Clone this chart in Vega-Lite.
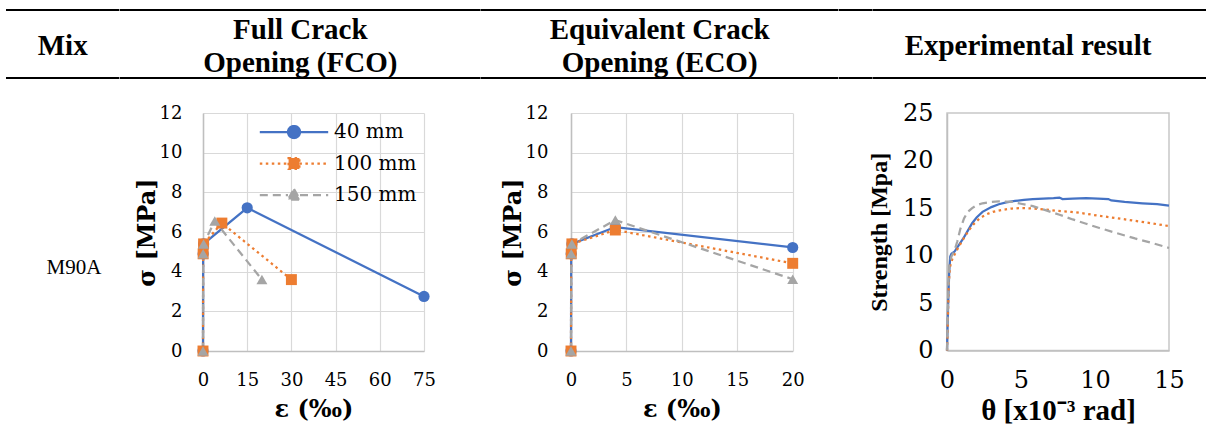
{
  "$schema": "https://vega.github.io/schema/vega-lite/v6.json",
  "background": "white",
  "padding": {"left": 5, "top": 9, "right": 0, "bottom": 0},
  "config": {
    "view": {"stroke": null},
    "axis": {"ticks": false, "labelFlush": false, "domainColor": "#bfbfbf", "domainWidth": 1.5, "gridColor": "#d9d9d9", "gridWidth": 1.2, "labelColor": "black", "titleColor": "black", "labelFont": "DejaVu Serif", "titleFont": "DejaVu Serif", "labelFontSize": 18, "titleFontSize": 24, "titleFontWeight": "bold"}
  },
  "datasets": {
    "fco": [
      {"series": "40 mm", "eps": 0, "sigma": 0},
      {"series": "40 mm", "eps": 0.05, "sigma": 4.9},
      {"series": "40 mm", "eps": 0.2, "sigma": 5.4},
      {"series": "40 mm", "eps": 15, "sigma": 7.22},
      {"series": "40 mm", "eps": 75, "sigma": 2.75},
      {"series": "100 mm", "eps": 0, "sigma": 0},
      {"series": "100 mm", "eps": 0.05, "sigma": 4.9},
      {"series": "100 mm", "eps": 0.2, "sigma": 5.4},
      {"series": "100 mm", "eps": 6.4, "sigma": 6.45},
      {"series": "100 mm", "eps": 30, "sigma": 3.6},
      {"series": "150 mm", "eps": 0, "sigma": 0},
      {"series": "150 mm", "eps": 0.05, "sigma": 4.9},
      {"series": "150 mm", "eps": 0.2, "sigma": 5.4},
      {"series": "150 mm", "eps": 4, "sigma": 6.55},
      {"series": "150 mm", "eps": 20, "sigma": 3.6}
    ],
    "eco": [
      {"series": "40 mm", "eps": 0, "sigma": 0},
      {"series": "40 mm", "eps": 0.02, "sigma": 4.9},
      {"series": "40 mm", "eps": 0.08, "sigma": 5.4},
      {"series": "40 mm", "eps": 4, "sigma": 6.25},
      {"series": "40 mm", "eps": 20, "sigma": 5.22},
      {"series": "100 mm", "eps": 0, "sigma": 0},
      {"series": "100 mm", "eps": 0.02, "sigma": 4.9},
      {"series": "100 mm", "eps": 0.08, "sigma": 5.4},
      {"series": "100 mm", "eps": 4, "sigma": 6.1},
      {"series": "100 mm", "eps": 20, "sigma": 4.42},
      {"series": "150 mm", "eps": 0, "sigma": 0},
      {"series": "150 mm", "eps": 0.02, "sigma": 4.9},
      {"series": "150 mm", "eps": 0.08, "sigma": 5.4},
      {"series": "150 mm", "eps": 4, "sigma": 6.6},
      {"series": "150 mm", "eps": 20, "sigma": 3.62}
    ],
    "exp": [
      {"series": "40 mm", "theta": 0, "strength": 0},
      {"series": "40 mm", "theta": 0.03, "strength": 2},
      {"series": "40 mm", "theta": 0.08, "strength": 5},
      {"series": "40 mm", "theta": 0.15, "strength": 8.3},
      {"series": "40 mm", "theta": 0.22, "strength": 9.9},
      {"series": "40 mm", "theta": 0.3, "strength": 10.2},
      {"series": "40 mm", "theta": 0.5, "strength": 10.4},
      {"series": "40 mm", "theta": 0.8, "strength": 11.1},
      {"series": "40 mm", "theta": 1.1, "strength": 11.8},
      {"series": "40 mm", "theta": 1.4, "strength": 12.6},
      {"series": "40 mm", "theta": 1.7, "strength": 13.4},
      {"series": "40 mm", "theta": 2.0, "strength": 14.0},
      {"series": "40 mm", "theta": 2.4, "strength": 14.6},
      {"series": "40 mm", "theta": 3.0, "strength": 15.1},
      {"series": "40 mm", "theta": 3.5, "strength": 15.4},
      {"series": "40 mm", "theta": 4.0, "strength": 15.6},
      {"series": "40 mm", "theta": 4.6, "strength": 15.75},
      {"series": "40 mm", "theta": 5.2, "strength": 15.85},
      {"series": "40 mm", "theta": 5.8, "strength": 15.95},
      {"series": "40 mm", "theta": 6.5, "strength": 16.0},
      {"series": "40 mm", "theta": 7.2, "strength": 16.05},
      {"series": "40 mm", "theta": 7.6, "strength": 16.1},
      {"series": "40 mm", "theta": 7.8, "strength": 15.95},
      {"series": "40 mm", "theta": 8.5, "strength": 16.0},
      {"series": "40 mm", "theta": 9.4, "strength": 16.05},
      {"series": "40 mm", "theta": 10.2, "strength": 16.0},
      {"series": "40 mm", "theta": 10.9, "strength": 15.95},
      {"series": "40 mm", "theta": 11.1, "strength": 15.8},
      {"series": "40 mm", "theta": 12.0, "strength": 15.65},
      {"series": "40 mm", "theta": 13.2, "strength": 15.5},
      {"series": "40 mm", "theta": 14.2, "strength": 15.4},
      {"series": "40 mm", "theta": 15.0, "strength": 15.25},
      {"series": "100 mm", "theta": 0, "strength": 0},
      {"series": "100 mm", "theta": 0.03, "strength": 1.5},
      {"series": "100 mm", "theta": 0.07, "strength": 4},
      {"series": "100 mm", "theta": 0.12, "strength": 7},
      {"series": "100 mm", "theta": 0.2, "strength": 8.8},
      {"series": "100 mm", "theta": 0.35, "strength": 9.6},
      {"series": "100 mm", "theta": 0.6, "strength": 10.4},
      {"series": "100 mm", "theta": 0.9, "strength": 11.2},
      {"series": "100 mm", "theta": 1.2, "strength": 12.0},
      {"series": "100 mm", "theta": 1.5, "strength": 12.7},
      {"series": "100 mm", "theta": 1.8, "strength": 13.3},
      {"series": "100 mm", "theta": 2.2, "strength": 13.9},
      {"series": "100 mm", "theta": 2.6, "strength": 14.3},
      {"series": "100 mm", "theta": 3.1, "strength": 14.6},
      {"series": "100 mm", "theta": 3.7, "strength": 14.8},
      {"series": "100 mm", "theta": 4.4, "strength": 14.95},
      {"series": "100 mm", "theta": 5.1, "strength": 15.0},
      {"series": "100 mm", "theta": 5.8, "strength": 14.95},
      {"series": "100 mm", "theta": 6.6, "strength": 14.85},
      {"series": "100 mm", "theta": 7.5, "strength": 14.7},
      {"series": "100 mm", "theta": 8.4, "strength": 14.6},
      {"series": "100 mm", "theta": 9.2, "strength": 14.45},
      {"series": "100 mm", "theta": 10.2, "strength": 14.2},
      {"series": "100 mm", "theta": 11.4, "strength": 13.95},
      {"series": "100 mm", "theta": 12.5, "strength": 13.7},
      {"series": "100 mm", "theta": 13.8, "strength": 13.4},
      {"series": "100 mm", "theta": 15.0, "strength": 13.1},
      {"series": "150 mm", "theta": 0, "strength": 0},
      {"series": "150 mm", "theta": 0.03, "strength": 2.5},
      {"series": "150 mm", "theta": 0.08, "strength": 6},
      {"series": "150 mm", "theta": 0.15, "strength": 9},
      {"series": "150 mm", "theta": 0.3, "strength": 9.9},
      {"series": "150 mm", "theta": 0.5, "strength": 10.5},
      {"series": "150 mm", "theta": 0.7, "strength": 11.5},
      {"series": "150 mm", "theta": 0.9, "strength": 12.8},
      {"series": "150 mm", "theta": 1.15, "strength": 13.9},
      {"series": "150 mm", "theta": 1.4, "strength": 14.6},
      {"series": "150 mm", "theta": 1.7, "strength": 15.0},
      {"series": "150 mm", "theta": 2.0, "strength": 15.3},
      {"series": "150 mm", "theta": 2.4, "strength": 15.5},
      {"series": "150 mm", "theta": 3.0, "strength": 15.65},
      {"series": "150 mm", "theta": 3.5, "strength": 15.7},
      {"series": "150 mm", "theta": 4.4, "strength": 15.65},
      {"series": "150 mm", "theta": 5.0, "strength": 15.45},
      {"series": "150 mm", "theta": 5.8, "strength": 15.2},
      {"series": "150 mm", "theta": 6.6, "strength": 14.8},
      {"series": "150 mm", "theta": 7.6, "strength": 14.3},
      {"series": "150 mm", "theta": 8.5, "strength": 13.8},
      {"series": "150 mm", "theta": 9.4, "strength": 13.35},
      {"series": "150 mm", "theta": 10.3, "strength": 12.9},
      {"series": "150 mm", "theta": 11.5, "strength": 12.35},
      {"series": "150 mm", "theta": 12.7, "strength": 11.8},
      {"series": "150 mm", "theta": 13.9, "strength": 11.3},
      {"series": "150 mm", "theta": 15.0, "strength": 10.8}
    ]
  },
  "vconcat": [
    {
      "bounds": "flush",
      "spacing": 0,
      "hconcat": [
        {"width": 113.4, "height": 68, "data": {"values": [{"h": "Mix"}]}, "layer": [
          {"mark": {"type": "text", "font": "Liberation Serif", "fontWeight": "bold", "fontSize": 29, "baseline": "alphabetic", "dy": 11, "color": "black"}, "encoding": {"text": {"field": "h"}}},
          {"mark": {"type": "rule", "strokeWidth": 2, "color": "black"}, "encoding": {"y": {"datum": 0, "type": "quantitative", "scale": {"domain": [0, 1]}, "axis": null}}},
          {"mark": {"type": "rule", "strokeWidth": 2, "color": "black"}, "encoding": {"y": {"datum": 1, "type": "quantitative", "scale": {"domain": [0, 1]}, "axis": null}}}
        ]},
        {"width": 360.6, "height": 68, "data": {"values": [{"h": "Full Crack\nOpening (FCO)"}]}, "layer": [
          {"mark": {"type": "text", "font": "Liberation Serif", "fontWeight": "bold", "fontSize": 29, "baseline": "alphabetic", "dy": -5, "lineBreak": "\n", "lineHeight": 33, "color": "black"}, "encoding": {"text": {"field": "h"}}},
          {"mark": {"type": "rule", "strokeWidth": 2, "color": "black"}, "encoding": {"y": {"datum": 0, "type": "quantitative", "scale": {"domain": [0, 1]}, "axis": null}}},
          {"mark": {"type": "rule", "strokeWidth": 2, "color": "black"}, "encoding": {"y": {"datum": 1, "type": "quantitative", "scale": {"domain": [0, 1]}, "axis": null}}}
        ]},
        {"width": 357.4, "height": 68, "data": {"values": [{"h": "Equivalent Crack\nOpening (ECO)"}]}, "layer": [
          {"mark": {"type": "text", "font": "Liberation Serif", "fontWeight": "bold", "fontSize": 29, "baseline": "alphabetic", "dy": -5, "lineBreak": "\n", "lineHeight": 33, "color": "black"}, "encoding": {"text": {"field": "h"}}},
          {"mark": {"type": "rule", "strokeWidth": 2, "color": "black"}, "encoding": {"y": {"datum": 0, "type": "quantitative", "scale": {"domain": [0, 1]}, "axis": null}}},
          {"mark": {"type": "rule", "strokeWidth": 2, "color": "black"}, "encoding": {"y": {"datum": 1, "type": "quantitative", "scale": {"domain": [0, 1]}, "axis": null}}}
        ]},
        {"width": 33.6, "height": 68, "data": {"values": [{}]}, "layer": [
          {"mark": {"type": "rule", "strokeWidth": 2, "color": "black"}, "encoding": {"y": {"datum": 0, "type": "quantitative", "scale": {"domain": [0, 1]}, "axis": null}}},
          {"mark": {"type": "rule", "strokeWidth": 2, "color": "black"}, "encoding": {"y": {"datum": 1, "type": "quantitative", "scale": {"domain": [0, 1]}, "axis": null}}}
        ]},
        {"width": 310, "height": 68, "data": {"values": [{"h": "Experimental result"}]}, "layer": [
          {"mark": {"type": "text", "font": "Liberation Serif", "fontWeight": "bold", "fontSize": 29, "baseline": "alphabetic", "dy": 11, "color": "black"}, "encoding": {"text": {"field": "h"}}},
          {"mark": {"type": "rule", "strokeWidth": 2, "color": "black"}, "encoding": {"y": {"datum": 0, "type": "quantitative", "scale": {"domain": [0, 1]}, "axis": null}}},
          {"mark": {"type": "rule", "strokeWidth": 2, "color": "black"}, "encoding": {"y": {"datum": 1, "type": "quantitative", "scale": {"domain": [0, 1]}, "axis": null}}}
        ]},
        {"width": 26, "height": 68, "data": {"values": [{}]}, "layer": [
          {"mark": {"type": "rule", "strokeWidth": 2, "color": "black"}, "encoding": {"y": {"datum": 0, "type": "quantitative", "scale": {"domain": [0, 1]}, "axis": null}}},
          {"mark": {"type": "rule", "strokeWidth": 2, "color": "black"}, "encoding": {"y": {"datum": 1, "type": "quantitative", "scale": {"domain": [0, 1]}, "axis": null}}}
        ]}
      ]
    },
    {
      "bounds": "flush",
      "spacing": 0,
      "hconcat": [
        {"width": 136, "height": 238, "data": {"values": [{"mix": "M90A"}]},
         "mark": {"type": "text", "font": "Liberation Serif", "fontSize": 21, "baseline": "middle", "dy": 36, "color": "black"},
         "encoding": {"text": {"field": "mix"}}},
        {"width": 60.7, "height": 238, "data": {"values": [{}]}, "mark": {"type": "text"}, "encoding": {"text": {"value": ""}}},
        {
          "width": 221, "height": 238,
          "data": {"name": "fco"},
          "encoding": {
            "x": {"field": "eps", "type": "quantitative", "scale": {"domain": [0, 75], "nice": false}, "axis": {"values": [0, 15, 30, 45, 60, 75], "title": "ε (‰)", "labelPadding": 20, "titlePadding": 8}},
            "y": {"field": "sigma", "type": "quantitative", "scale": {"domain": [0, 12], "nice": false}, "axis": {"values": [0, 2, 4, 6, 8, 10, 12], "title": "σ [MPa]", "labelPadding": 21, "titlePadding": 0}}
          },
          "layer": [
            {"transform": [{"filter": "datum.series === '40 mm'"}], "mark": {"type": "line", "strokeWidth": 2.25, "color": "#4472C4"}},
            {"transform": [{"filter": "datum.series === '100 mm'"}], "mark": {"type": "line", "strokeWidth": 2.25, "color": "#ED7D31", "strokeDash": [2.5, 3.5]}},
            {"transform": [{"filter": "datum.series === '150 mm'"}], "mark": {"type": "line", "strokeWidth": 2.25, "color": "#A5A5A5", "strokeDash": [8, 5]}},
            {"transform": [{"filter": "datum.series === '40 mm'"}], "mark": {"type": "point", "shape": "circle", "filled": true, "size": 125, "opacity": 1, "color": "#4472C4"}},
            {"transform": [{"filter": "datum.series === '100 mm'"}], "mark": {"type": "point", "shape": "square", "filled": true, "size": 120, "opacity": 1, "color": "#ED7D31"}},
            {"transform": [{"filter": "datum.series === '150 mm'"}], "mark": {"type": "point", "shape": "triangle-up", "filled": true, "size": 120, "opacity": 1, "color": "#A5A5A5"}},
            {"transform": [{"filter": "false"}],
             "mark": {"type": "point", "filled": true, "size": 144, "opacity": 1, "strokeWidth": 2.25},
             "encoding": {
               "fill": {"field": "series", "type": "nominal", "scale": {"domain": ["40 mm", "100 mm", "150 mm"], "range": ["#4472C4", "#ED7D31", "#A5A5A5"]},
                 "legend": {"title": null, "orient": "none", "legendX": 278, "legendY": 112, "padding": 0, "labelFont": "DejaVu Serif", "labelFontSize": 20, "labelColor": "black", "labelOffset": 30, "symbolSize": 144, "rowPadding": 10.5, "symbolStrokeWidth": 2.25, "symbolOpacity": 1}},
               "stroke": {"field": "series", "type": "nominal", "scale": {"domain": ["40 mm", "100 mm", "150 mm"], "range": ["#4472C4", "#ED7D31", "#A5A5A5"]}, "legend": {"title": null, "orient": "none"}},
               "shape": {"field": "series", "type": "nominal", "scale": {"domain": ["40 mm", "100 mm", "150 mm"], "range": ["M-5.7,0H-1M1,0H5.7M-1,0A1,1 0 1,0 1,0A1,1 0 1,0 -1,0Z", "M-5.7,0H-0.9M0.9,0H5.7M-0.9,-0.9H0.9V0.9H-0.9Z", "M-5.7,0H-1M1,0H5.7M0,-1L1,0.75H-1Z"]}, "legend": {"title": null, "orient": "none"}},
               "strokeDash": {"field": "series", "type": "nominal", "scale": {"domain": ["40 mm", "100 mm", "150 mm"], "range": [[1, 0], [2.5, 3.5], [8, 5]]}, "legend": {"title": null, "orient": "none"}}
             }}
          ]
        },
        {"width": 146.3, "height": 238, "data": {"values": [{}]}, "mark": {"type": "text"}, "encoding": {"text": {"value": ""}}},
        {
          "width": 221.7, "height": 238,
          "data": {"name": "eco"},
          "encoding": {
            "x": {"field": "eps", "type": "quantitative", "scale": {"domain": [0, 20], "nice": false}, "axis": {"values": [0, 5, 10, 15, 20], "title": "ε (‰)", "labelPadding": 20, "titlePadding": 8}},
            "y": {"field": "sigma", "type": "quantitative", "scale": {"domain": [0, 12], "nice": false}, "axis": {"values": [0, 2, 4, 6, 8, 10, 12], "title": "σ [MPa]", "labelPadding": 23, "titlePadding": 0}}
          },
          "layer": [
            {"transform": [{"filter": "datum.series === '40 mm'"}], "mark": {"type": "line", "strokeWidth": 2.25, "color": "#4472C4"}},
            {"transform": [{"filter": "datum.series === '100 mm'"}], "mark": {"type": "line", "strokeWidth": 2.25, "color": "#ED7D31", "strokeDash": [2.5, 3.5]}},
            {"transform": [{"filter": "datum.series === '150 mm'"}], "mark": {"type": "line", "strokeWidth": 2.25, "color": "#A5A5A5", "strokeDash": [8, 5]}},
            {"transform": [{"filter": "datum.series === '40 mm'"}], "mark": {"type": "point", "shape": "circle", "filled": true, "size": 125, "opacity": 1, "color": "#4472C4"}},
            {"transform": [{"filter": "datum.series === '100 mm'"}], "mark": {"type": "point", "shape": "square", "filled": true, "size": 120, "opacity": 1, "color": "#ED7D31"}},
            {"transform": [{"filter": "datum.series === '150 mm'"}], "mark": {"type": "point", "shape": "triangle-up", "filled": true, "size": 120, "opacity": 1, "color": "#A5A5A5"}}
          ]
        },
        {"width": 154, "height": 238, "data": {"values": [{}]}, "mark": {"type": "text"}, "encoding": {"text": {"value": ""}}},
        {
          "width": 222, "height": 237.6,
          "view": {"stroke": "#c8c8c8", "strokeWidth": 1.5},
          "data": {"name": "exp"},
          "encoding": {
            "x": {"field": "theta", "type": "quantitative", "scale": {"domain": [0, 15], "nice": false}, "axis": {"values": [0, 5, 10, 15], "grid": false, "title": "θ [x10⁻³ rad]", "labelFontSize": 24, "labelPadding": 18, "titlePadding": 4, "titleFont": "Liberation Serif", "titleFontSize": 29}},
            "y": {"field": "strength", "type": "quantitative", "scale": {"domain": [0, 25], "nice": false}, "axis": {"values": [0, 5, 10, 15, 20, 25], "grid": false, "title": "Strength [Mpa]", "labelFontSize": 24, "labelPadding": 14, "titlePadding": 11, "titleFont": "Liberation Serif", "titleFontSize": 24}}
          },
          "layer": [
            {"transform": [{"filter": "datum.series === '40 mm'"}], "mark": {"type": "line", "strokeWidth": 2.25, "color": "#4472C4"}},
            {"transform": [{"filter": "datum.series === '100 mm'"}], "mark": {"type": "line", "strokeWidth": 2.25, "color": "#ED7D31", "strokeDash": [2.5, 3.5]}},
            {"transform": [{"filter": "datum.series === '150 mm'"}], "mark": {"type": "line", "strokeWidth": 2.25, "color": "#A5A5A5", "strokeDash": [8, 5]}}
          ]
        }
      ]
    }
  ],
  "spacing": 21
}
